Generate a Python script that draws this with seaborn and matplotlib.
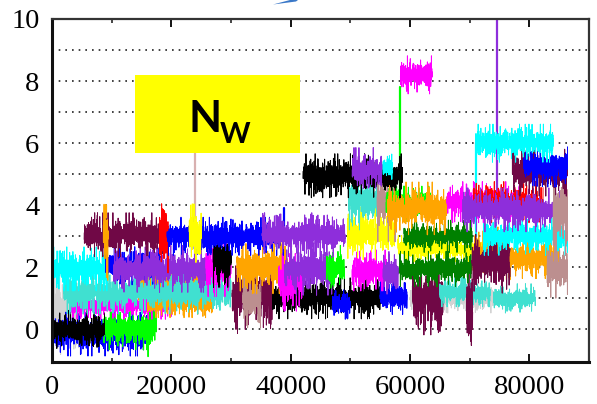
import numpy as np
import pandas as pd
import matplotlib
matplotlib.use("Agg")
import matplotlib.pyplot as plt
from matplotlib.patches import Rectangle, Polygon
from matplotlib.ticker import MultipleLocator
import seaborn as sns

# ---- data: noisy plateaus (colour, start, end, level, spread)
seg_colors = ["#D3D3D3", "#0000FF", "#00FF00", "#000000", "#00FF00",
              "#FF00FF", "#FFA500", "#FFA500", "#40E0D0", "#700846", "#BC8F8F",
              "#000000", "#0000FF", "#0000FF", "#D3D3D3", "#700846", "#40E0D0", "#40E0D0", "#700846",
              "#00FFFF", "#0000FF", "#8E2EDB", "#FF00FF", "#000000", "#FFA500", "#FF00FF",
              "#8E2EDB", "#00FF00", "#FF00FF", "#8E2EDB", "#FFFF00", "#008000", "#FFA500", "#700846",
              "#FFA500", "#BC8F8F",
              "#700846", "#FFA500", "#FF0000", "#0000FF", "#FFFF00", "#8E2EDB", "#FFFF00", "#008000",
              "#00FFFF",
              "#40E0D0", "#BC8F8F", "#00FF00", "#FFA500", "#FF00FF", "#FF0000", "#8E2EDB", "#BC8F8F",
              "#000000", "#8E2EDB", "#00FFFF", "#700846", "#0000FF",
              "#00FFFF", "#FF00FF"]
seg_x0 = [0, 0, 8500, 0, 16000,
          3000, 14000, 16000, 2000, 30200, 32000,
          37000, 47000, 55000, 60000, 60500, 65000, 74000, 69500,
          0, 9000, 10300, 25800, 27000, 31000, 38000,
          39000, 46000, 50300, 55500, 58000, 58200, 70500, 70400,
          76800, 83000,
          5400, 8600, 18000, 19300, 23000, 35200, 49500, 59000,
          72300,
          49700, 54500, 56000, 56200, 66200, 70600, 68800, 84000,
          42100, 50300, 55500, 77300, 79000,
          71000, 58400]
seg_x1 = [4500, 16000, 17000, 8800, 17500,
          20000, 25600, 27000, 30000, 37000, 35000,
          55000, 50000, 59500, 74000, 65500, 73500, 81000, 70500,
          9500, 18500, 25700, 30000, 30000, 39500, 42000,
          47000, 49000, 56200, 58000, 72000, 70400, 76800, 76800,
          85000, 86400,
          19300, 9400, 19500, 39000, 25000, 49100, 57500, 70400,
          86400,
          54500, 57500, 63400, 66200, 78500, 82300, 86000, 86400,
          58700, 55300, 57000, 86400, 86400,
          84000, 63700]
seg_level = [0.6, -0.15, 0.05, 0.0, 0.3,
             0.8, 1.5, 0.85, 1.2, 1.1, 1.0,
             1.0, 0.8, 1.05, 1.0, 1.05, 1.2, 1.0, 0.6,
             1.95, 2.05, 1.95, 2.0, 2.3, 2.0, 1.5,
             1.95, 2.0, 1.9, 1.8, 2.6, 1.95, 2.45, 2.15,
             2.3, 1.95,
             3.05, 3.0, 3.0, 3.0, 3.1, 3.05, 3.1, 3.0,
             3.0,
             4.15, 4.0, 4.05, 3.9, 4.1, 4.1, 3.85, 3.7,
             4.95, 5.15, 5.2, 5.05, 5.25,
             6.0, 8.2]
seg_spread = [0.3, 0.15, 0.15, 0.13, 0.25,
              0.1, 0.12, 0.1, 0.15, 0.26, 0.2,
              0.14, 0.1, 0.12, 0.1, 0.26, 0.1, 0.1, 0.3,
              0.15, 0.13, 0.16, 0.2, 0.2, 0.18, 0.2,
              0.18, 0.15, 0.14, 0.15, 0.09, 0.12, 0.18, 0.22,
              0.14, 0.2,
              0.15, 0.3, 0.25, 0.13, 0.2, 0.15, 0.18, 0.11,
              0.13,
              0.2, 0.25, 0.12, 0.18, 0.14, 0.14, 0.15, 0.28,
              0.15, 0.15, 0.1, 0.16, 0.14,
              0.13, 0.13]

# thin vertical excursions (colour, x, from, to)
spike_colors = ["#00FF00", "#8E2EDB", "#D8B0B0", "#00FFFF", "#700846", "#0000FF", "#FFA500", "#FF0000"]
spike_x = [58400, 74500, 24000, 71000, 77300, 38800, 9000, 18700]
spike_y0 = [4.2, 3.8, 3.6, 3.0, 5.0, 3.0, 2.0, 2.3]
spike_y1 = [7.8, 10.0, 5.8, 6.0, 5.9, 3.9, 4.0, 3.8]

x_ticks = [0, 20000, 40000, 60000, 80000]
y_ticks = [0, 2, 4, 6, 8, 10]

# ---- build long table (noise only as visual texture around the read levels)
rng = np.random.default_rng(11)
rows = []
for i, (c, a, b, lv, sd) in enumerate(zip(seg_colors, seg_x0, seg_x1, seg_level, seg_spread)):
    n = max(int((b - a) / 12), 20)
    xs = np.linspace(a, b, n)
    ys = lv + sd * 1.05 * np.clip(rng.standard_t(4, n), -4.5, 4.5)
    rows.append(pd.DataFrame({"x": xs, "y": ys, "seg": f"s{i:02d}"}))
df = pd.concat(rows, ignore_index=True)
pal = {f"s{i:02d}": c for i, c in enumerate(seg_colors)}

sp_rows = []
for i, (c, xx, a, b) in enumerate(zip(spike_colors, spike_x, spike_y0, spike_y1)):
    sp_rows.append(pd.DataFrame({"x": [xx, xx], "y": [a, b], "seg": f"p{i}"}))
dfs = pd.concat(sp_rows, ignore_index=True)
pal_s = {f"p{i}": c for i, c in enumerate(spike_colors)}

sns.set_theme(style="white")
plt.rcParams["font.family"] = ["Liberation Serif", "DejaVu Serif"]

fig = plt.figure(figsize=(5.97, 4.04), dpi=100)
ax = fig.add_axes([52 / 597, 1 - 362 / 404, (589 - 52) / 597, (362 - 19) / 404])

for yv in range(0, 10):
    ax.axhline(yv, color="#222222", lw=1.2, ls=(0, (1, 3.0)), zorder=0.5)

sns.lineplot(data=df, x="x", y="y", hue="seg", units="seg", estimator=None,
             palette=pal, hue_order=list(pal.keys()), sort=False,
             lw=0.7, legend=False, ax=ax, zorder=2)
sns.lineplot(data=dfs, x="x", y="y", hue="seg", units="seg", estimator=None,
             palette=pal_s, sort=False, lw=1.6, legend=False, ax=ax, zorder=1.9)

ax.set_xlim(0, 90000)
ax.set_ylim(-1.05, 10)
ax.set_xlabel("")
ax.set_ylabel("")
ax.set_xticks(x_ticks)
ax.set_xticklabels([str(v) for v in x_ticks])
ax.xaxis.set_minor_locator(MultipleLocator(10000))
ax.set_yticks(y_ticks)
ax.set_yticklabels([str(v) for v in y_ticks])
ax.tick_params(axis="x", which="major", direction="in", length=6, width=1.3,
               top=True, bottom=True, labelsize=20.5, pad=9, colors="black")
ax.tick_params(axis="x", which="minor", direction="in", length=3, width=1.2,
               top=True, bottom=True)
ax.tick_params(axis="y", which="both", length=0, labelsize=20.5, pad=9, colors="black")
for s in ["left", "bottom"]:
    ax.spines[s].set_linewidth(2.2)
    ax.spines[s].set_color("#111111")
for s in ["top", "right"]:
    ax.spines[s].set_linewidth(1.6)
    ax.spines[s].set_color("#333333")

# yellow label box
box = Rectangle((13900, 5.68), 41600 - 13900, 8.19 - 5.68, facecolor="#FFFF00",
                edgecolor="none", zorder=10)
ax.add_patch(box)
fig.text(188 / 597, 1 - 132 / 404, "N", fontsize=31, fontweight="bold",
         family="Lato", ha="left", va="baseline", color="black", zorder=11)
fig.text(220 / 597, 1 - 143 / 404, "W", fontsize=21, fontweight="bold",
         family="Lato", ha="left", va="baseline", color="black", zorder=11)

# fragment of blue arrow at the top
arrow = Polygon([(273 / 597, 1 - 4.5 / 404), (290 / 597, 1.0), (298 / 597, 1.0),
                 (296 / 597, 1 - 1.5 / 404)], closed=True, transform=fig.transFigure,
                facecolor="#3A78C8", edgecolor="none")
fig.patches.append(arrow)

fig.savefig("out.png", dpi=100)
